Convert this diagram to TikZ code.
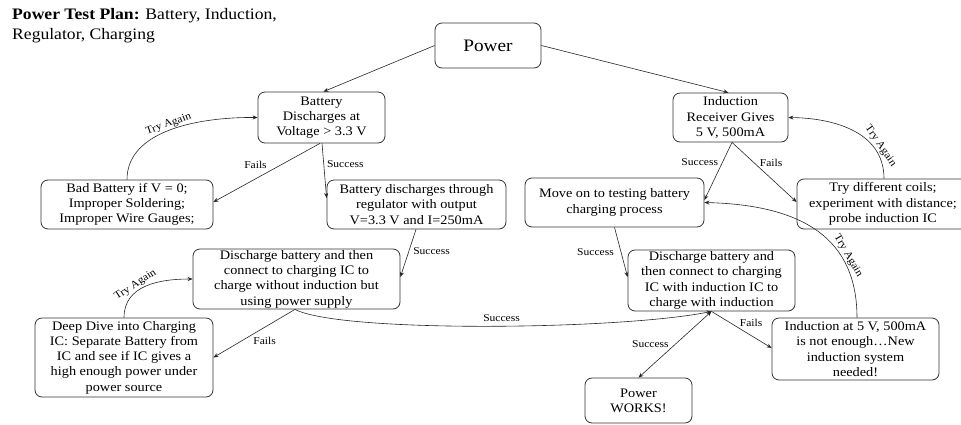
\documentclass[tikz,border=0pt]{standalone}
\usepackage{fontspec}
\setmainfont{Liberation Serif}[FakeStretch=1.1]
\usetikzlibrary{arrows.meta,positioning}
\tikzset{
  box/.style={draw=black!80, line width=0.8pt, rounded corners=7pt, align=center,
    font=\fontsize{13}{15.3}\selectfont, inner sep=1pt},
  lbl/.style={font=\fontsize{10.5}{12}\selectfont, inner sep=1pt},
  conn/.style={draw=black!85, line width=0.6pt, -{Stealth[length=5pt,width=4pt]}},
  bconn/.style={draw=black!85, line width=0.6pt, {Stealth[length=5pt,width=4pt]}-{Stealth[length=5pt,width=4pt]}}
}
\begin{document}
\begin{tikzpicture}[x=1pt,y=-1pt]
\useasboundingbox (0,0) rectangle (961,424);
\node[anchor=north west, align=left, font=\fontsize{16}{20}\selectfont, inner sep=0pt] (title) at (12,8)
  {\textbf{Power Test Plan:} Battery, Induction,\\Regulator, Charging};

\node[box, minimum width=106pt, minimum height=45pt, font=\fontsize{17.5}{20}\selectfont] (power) at (488,45.5) {Power};
\node[box, minimum width=127pt, minimum height=51pt] (bat) at (321.5,117.5) {Battery\\Discharges at\\Voltage > 3.3 V};
\node[box, minimum width=172pt, minimum height=49pt] (bad) at (127,204.5) {Bad Battery if V = 0;\\Improper Soldering;\\Improper Wire Gauges;};
\node[box, minimum width=179pt, minimum height=49pt] (reg) at (416.5,204.5) {Battery discharges through\\regulator with output\\V=3.3 V and I=250mA};
\node[box, minimum width=207pt, minimum height=60pt] (dis1) at (296.5,279) {Discharge battery and then\\connect to charging IC to\\charge without induction but\\using power supply};
\node[box, minimum width=178pt, minimum height=79pt] (deep) at (124,357.5) {Deep Dive into Charging\\IC: Separate Battery from\\IC and see if IC gives a\\high enough power under\\power source};
\node[box, minimum width=115pt, minimum height=49pt] (ind) at (730.5,117.5) {Induction\\Receiver Gives\\5 V, 500mA};
\node[box, minimum width=179pt, minimum height=49pt] (move) at (614.5,202.5) {Move on to testing battery\\charging process};
\node[box, minimum width=172pt, minimum height=50pt] (coils) at (883,204) {Try different coils;\\experiment with distance;\\probe induction IC};
\node[box, minimum width=167pt, minimum height=61pt] (dis2) at (711.5,280.5) {Discharge battery and\\then connect to charging\\IC with induction IC to\\charge with induction};
\node[box, minimum width=167pt, minimum height=62pt] (fail5) at (855.5,349) {Induction at 5 V, 500mA\\is not enough…New\\induction system\\needed!};
\node[box, minimum width=107pt, minimum height=45pt] (works) at (638.5,400.5) {Power\\WORKS!};

% connectors
\draw[conn] (power.west) -- ([xshift=2pt]bat.north);
\draw[conn] (power.east) -- ([xshift=-2pt]ind.north);

\draw[conn] ([xshift=-1.5pt]bat.south) -- node[lbl, pos=0.45, above left=0pt and 4pt] {Fails} ([yshift=2.5pt]bad.east);
\draw[conn] ([xshift=0.5pt]bat.south) -- node[lbl, pos=0.38, right=2pt] {Success} ([yshift=6.5pt]reg.west);
\draw[conn] (bad.north) .. controls (127,130) and (200,117) .. node[lbl, pos=0.5, sloped, above] {Try Again} (bat.west);

\draw[conn] ([xshift=-0.5pt]reg.south) -- node[lbl, pos=0.45, right=3pt] {Success} ([yshift=2pt]dis1.east);
\draw[conn] ([xshift=-1.5pt]dis1.south) -- node[lbl, pos=0.55, below right=0pt and 2pt] {Fails} (deep.east);
\draw[conn] (deep.north) .. controls (124,285) and (160,279) .. node[lbl, pos=0.4, sloped, above] {Try Again} (dis1.west);
\draw[conn] ([xshift=-1.5pt]dis1.south) .. controls (340,333) and (620,330) .. node[lbl, pos=0.53, above=3pt] {Success} (dis2.south);

\draw[conn] ([xshift=1.5pt]ind.south) -- node[lbl, pos=0.35, left=3pt] {Success} ([yshift=2.5pt]move.east);
\draw[conn] ([xshift=1.5pt]ind.south) -- node[lbl, pos=0.35, right=4pt] {Fails} ([yshift=2pt]coils.west);
\draw[conn] ([xshift=1pt]coils.north) .. controls (884,130) and (830,118) .. node[lbl, pos=0.24, sloped, above] {Try Again} (ind.east);

\draw[conn] (move.south) -- node[lbl, pos=0.5, left=6pt] {Success} ([yshift=3.5pt]dis2.west);
\draw[conn] (dis2.south) -- node[lbl, pos=0.45, above right=0pt and 0pt] {Fails} ([yshift=1pt]fail5.west);
\draw[bconn] (dis2.south) -- node[lbl, pos=0.5, left=5pt] {Success} (works.north);
\draw[conn] ([xshift=1.5pt]fail5.north) .. controls (857,240) and (805,205) .. node[lbl, pos=0.3, sloped, above] {Try Again} (move.east);
\end{tikzpicture}
\end{document}
